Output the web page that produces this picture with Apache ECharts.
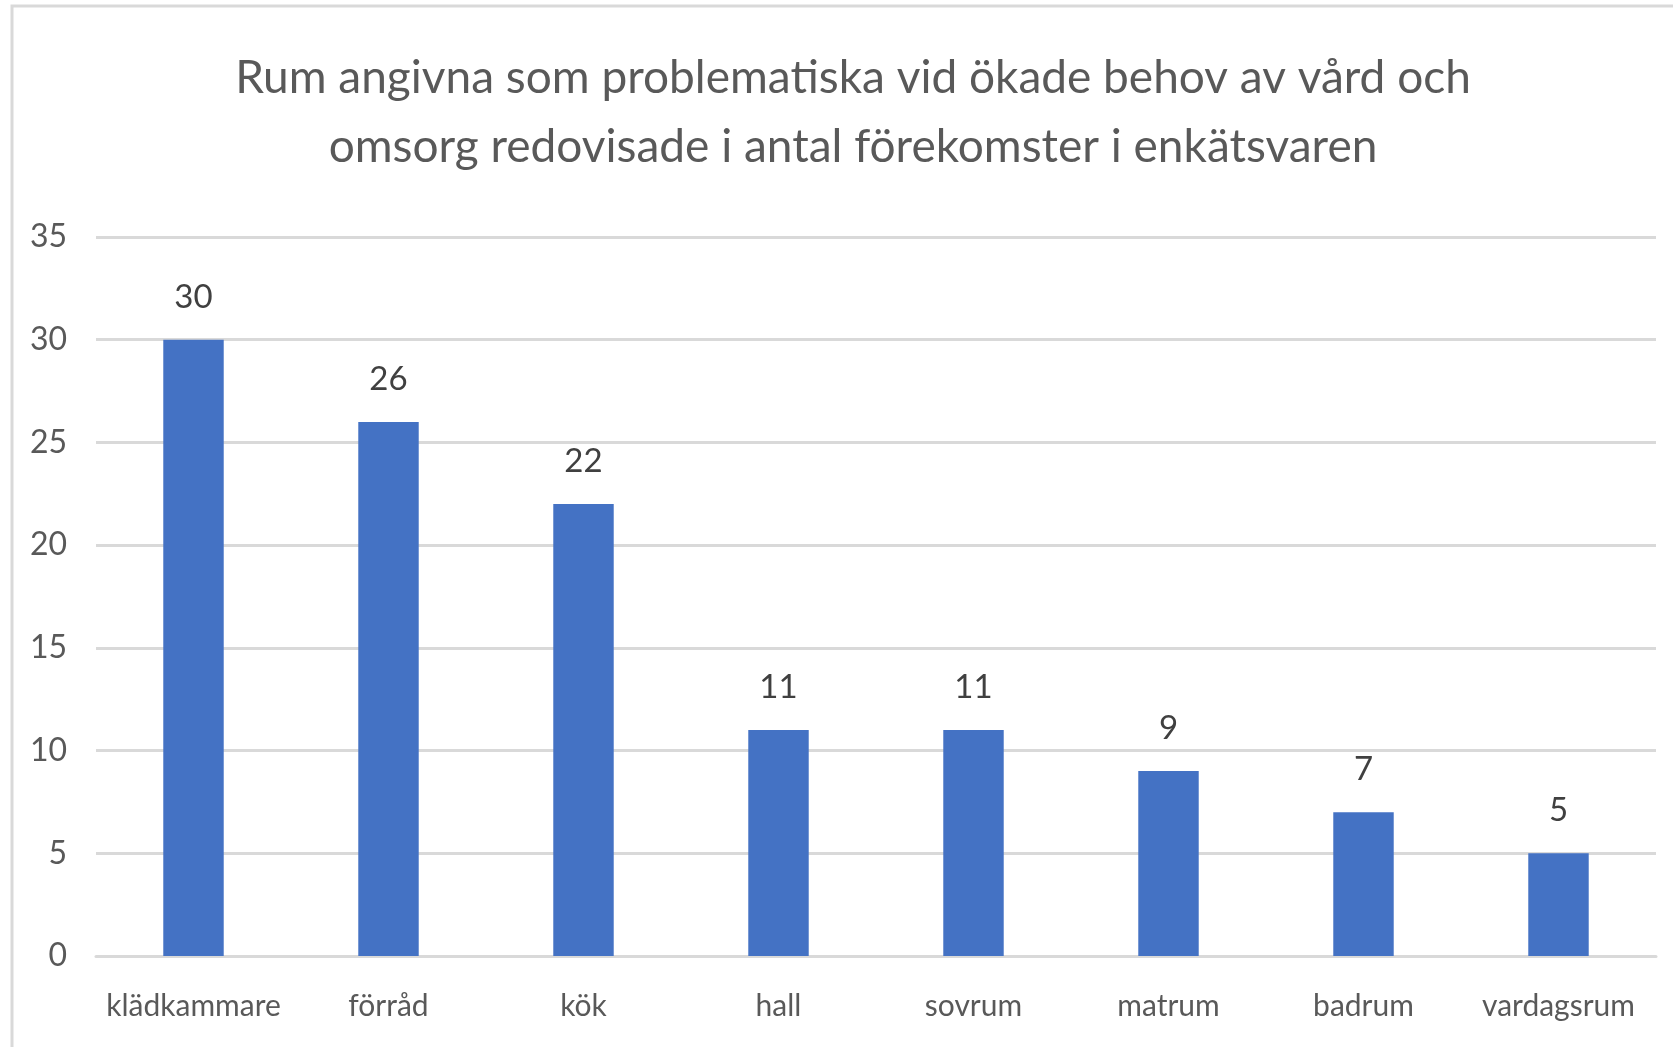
<!DOCTYPE html>
<html>
<head>
<meta charset="utf-8">
<title>Rum angivna som problematiska</title>
<script src="https://cdn.jsdelivr.net/npm/echarts@6/dist/echarts.min.js"></script>
<style>
  html, body { margin: 0; padding: 0; background: #ffffff; }
  #chart { width: 1673px; height: 1047px; }
</style>
</head>
<body>
<div id="chart"></div>
<script>
// Rooms named as problematic when care needs increase (number of mentions)
const categories = ['klädkammare', 'förråd', 'kök', 'hall', 'sovrum', 'matrum', 'badrum', 'vardagsrum'];
const counts = [30, 26, 22, 11, 11, 9, 7, 5];
const yTicks = { min: 0, max: 35, interval: 5 };
const chartTitle = 'Rum angivna som problematiska vid ökade behov av vård och\nomsorg redovisade i antal förekomster i enkätsvaren';

const FONT = 'Lato';
const TEXT = '#595959';
const GRID = '#d9d9d9';

const chart = echarts.init(document.getElementById('chart'), null, { renderer: 'canvas' });

chart.setOption({
  backgroundColor: '#ffffff',
  animation: false,
  title: {
    text: chartTitle,
    left: 848,
    top: 39,
    textAlign: 'center',
    textStyle: {
      fontFamily: FONT,
      fontSize: 46,
      fontWeight: 'normal',
      color: TEXT,
      lineHeight: 69
    }
  },
  graphic: [{
    // chart area frame (only top and left edges fall inside the page)
    type: 'rect',
    z: -1,
    shape: { x: 12, y: 6, width: 1720, height: 1100 },
    style: { fill: 'none', stroke: GRID, lineWidth: 3 }
  }],
  grid: {
    left: 96,
    right: 17,
    top: 237,
    bottom: 91,
    containLabel: false
  },
  xAxis: {
    type: 'category',
    data: categories,
    axisLine: { show: true, lineStyle: { color: GRID, width: 3 } },
    axisTick: { show: false },
    axisLabel: {
      interval: 0,
      margin: 34,
      fontFamily: FONT,
      fontSize: 30,
      lineHeight: 32,
      color: TEXT
    }
  },
  yAxis: {
    type: 'value',
    min: yTicks.min,
    max: yTicks.max,
    interval: yTicks.interval,
    axisLine: { show: false },
    axisTick: { show: false },
    splitLine: { lineStyle: { color: GRID, width: 3 } },
    axisLabel: {
      margin: 29,
      fontFamily: FONT,
      fontSize: 32,
      color: TEXT
    }
  },
  series: [{
    type: 'bar',
    data: counts,
    barWidth: '31%',
    itemStyle: { color: '#4472C4' },
    label: {
      show: true,
      position: 'top',
      distance: 26,
      fontFamily: FONT,
      fontSize: 33,
      lineHeight: 33,
      color: '#404040'
    }
  }]
});
</script>
</body>
</html>
